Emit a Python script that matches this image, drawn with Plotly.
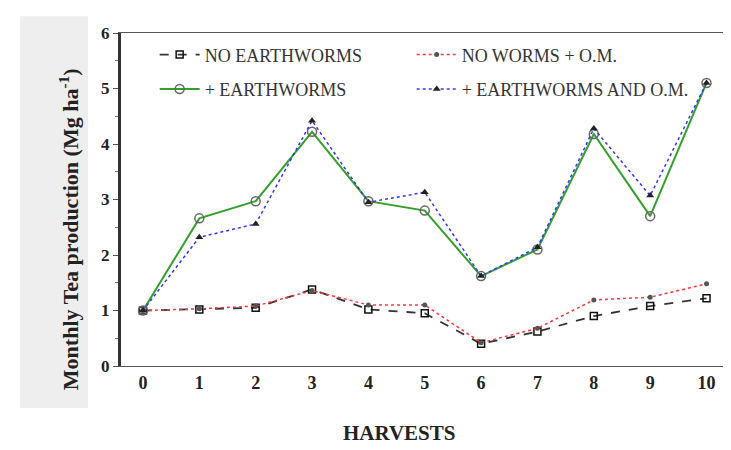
import plotly.graph_objects as go

harvests = [0, 1, 2, 3, 4, 5, 6, 7, 8, 9, 10]
no_earthworms = [1.0, 1.02, 1.05, 1.38, 1.02, 0.95, 0.40, 0.62, 0.90, 1.08, 1.22]
no_worms_om = [1.0, 1.03, 1.08, 1.36, 1.10, 1.10, 0.42, 0.68, 1.19, 1.24, 1.48]
earthworms = [1.0, 2.66, 2.97, 4.22, 2.97, 2.80, 1.62, 2.10, 4.18, 2.70, 5.10]
earthworms_om = [1.0, 2.32, 2.56, 4.42, 2.95, 3.13, 1.62, 2.14, 4.28, 3.07, 5.10]

FONT = "Liberation Serif"

fig = go.Figure()
fig.add_trace(go.Scatter(
    x=harvests, y=no_earthworms, name="NO EARTHWORMS", mode="lines+markers",
    legend="legend", legendgroup="a",
    line=dict(color="#333333", width=1.8, dash="dash"),
    marker=dict(symbol="square-open", size=7, color="#111111", line=dict(width=1.5))))
fig.add_trace(go.Scatter(
    x=harvests, y=no_worms_om, name="NO WORMS + O.M.", mode="lines+markers",
    legend="legend2", legendgroup="b",
    line=dict(color="#ff3333", width=1.5, dash="dot"),
    marker=dict(symbol="circle", size=5, color="#555555")))
fig.add_trace(go.Scatter(
    x=harvests, y=earthworms, name="+ EARTHWORMS", mode="lines+markers",
    legend="legend", legendgroup="c",
    line=dict(color="#33a02c", width=2),
    marker=dict(symbol="circle-open", size=9, color="#666666", line=dict(width=1.5))))
fig.add_trace(go.Scatter(
    x=harvests, y=earthworms_om, name="+ EARTHWORMS AND O.M.", mode="lines+markers",
    legend="legend2", legendgroup="d",
    line=dict(color="#3333ff", width=1.5, dash="dot"),
    marker=dict(symbol="triangle-up", size=7, color="#222222")))

fig.add_shape(type="rect", xref="paper", yref="paper", x0=-0.165, x1=-0.054,
              y0=-0.126, y1=1.05, fillcolor="#eeeeee", line=dict(width=0), layer="below")

fig.add_annotation(text="Monthly Tea production (Mg ha<sup>-1</sup>)", xref="paper", yref="paper",
                   x=-0.11, y=0.41, textangle=-90, showarrow=False,
                   font=dict(family=FONT, size=22, color="#222222", weight="bold"))

fig.add_annotation(text="HARVESTS", xref="paper", yref="paper",
                   x=(391 - 113) / 612, y=-0.2, xanchor="center", yanchor="middle",
                   showarrow=False,
                   font=dict(family=FONT, size=21, color="#222222", weight="bold"))

leg_common = dict(orientation="v", yanchor="top", xanchor="left",
                  font=dict(family=FONT, size=18, color="#333333"),
                  bgcolor="rgba(0,0,0,0)", tracegroupgap=8, itemwidth=40)
fig.update_layout(
    width=731, height=450,
    margin=dict(l=113, r=6, t=25, b=92),
    paper_bgcolor="white", plot_bgcolor="white",
    showlegend=True,
    legend=dict(x=0.055, y=0.99, **leg_common),
    legend2=dict(x=0.475, y=0.99, **leg_common),
    font=dict(family=FONT),
)
fig.update_xaxes(
    range=[-0.39, 10.47], tickmode="array", tickvals=harvests,
    ticktext=[str(h) for h in harvests],
    ticks="", showgrid=False, zeroline=False,
    showline=True, linecolor="#555555", linewidth=1, mirror=True,
    tickfont=dict(family=FONT, size=18, color="#222222", weight="bold"),
)
fig.update_yaxes(
    range=[0, 6], dtick=1, ticks="outside", ticklen=5, tickcolor="#555555",
    minor=dict(dtick=0.5, ticks="outside", ticklen=3, tickcolor="#777777"),
    showgrid=False, zeroline=False,
    showline=True, linecolor="#333333", linewidth=3,
    tickfont=dict(family=FONT, size=17, color="#222222", weight="bold"),
)

fig.write_html("out.html")
